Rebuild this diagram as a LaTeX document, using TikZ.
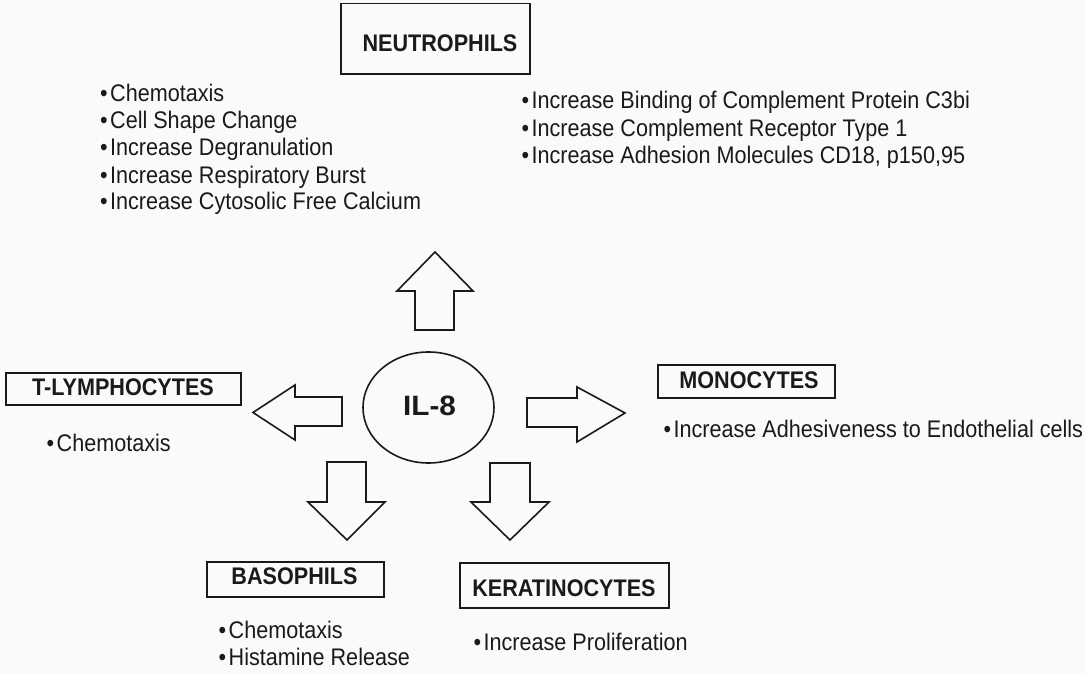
\documentclass[tikz,border=0pt]{standalone}
\usepackage{fontspec}
\setmainfont{Liberation Sans}[FakeStretch=0.9]
\newfontfamily\ilfont{Liberation Sans}[FakeStretch=1.06]
\definecolor{ink}{HTML}{1A1A1A}
\definecolor{paper}{HTML}{FAFAF9}
\begin{document}
\begin{tikzpicture}[x=1pt,y=-1pt,
  cellbox/.style={draw=ink,line width=1.8pt},
  celltxt/.style={anchor=base,inner sep=0pt,text=ink,font=\bfseries\fontsize{24}{24}\selectfont},
  item/.style={anchor=base west,inner sep=0pt,text=ink,font=\fontsize{24}{28}\selectfont},
  blockarrow/.style={draw=ink,line width=1.6pt,line join=miter,fill=paper}]
\fill[paper] (0,0) rectangle (1085,674);
\useasboundingbox (0,0) rectangle (1085,674);
\newcommand{\bul}{\textbullet\hspace{2.4pt}}

% centre
\draw[ink,line width=1.6pt] (428.5,407.5) ellipse [x radius=65.5,y radius=55.5];
\node[anchor=base,inner sep=0pt,text=ink,font=\ilfont\bfseries\fontsize{28}{28}\selectfont] (il8) at (429.5,415) {IL-8};

% block arrows
\draw[blockarrow] (415,330) -- (415,291) -- (397,291) -- (435,252) -- (473,291) -- (454,291) -- (454,330) -- cycle;
\draw[blockarrow] (342,397) -- (295,397) -- (295,385) -- (253,412.5) -- (295,440) -- (295,426) -- (342,426) -- cycle;
\draw[blockarrow] (527,398) -- (577,398) -- (577,387) -- (625,413) -- (577,442) -- (577,427) -- (527,427) -- cycle;
\draw[blockarrow] (327,462) -- (366,462) -- (366,502) -- (385,502) -- (347,540) -- (308,502) -- (327,502) -- cycle;
\draw[blockarrow] (490,463) -- (530,463) -- (530,502) -- (549,502) -- (510,540) -- (471,502) -- (490,502) -- cycle;

% boxes
\draw[cellbox] (341,3.5) rectangle (530,74);
\node[celltxt] (neu) at (440,51.5) {NEUTROPHILS};
\draw[cellbox] (6,373) rectangle (241,405);
\node[celltxt] (tly) at (123,395.5) {T-LYMPHOCYTES};
\draw[cellbox] (658,365) rectangle (835,398);
\node[celltxt] (mono) at (749,388) {MONOCYTES};
\draw[cellbox] (207,562) rectangle (384,597);
\node[celltxt] (baso) at (294.5,584) {BASOPHILS};
\draw[cellbox] (460,563) rectangle (669,608);
\node[celltxt] (kera) at (564,596) {KERATINOCYTES};

% neutrophil effects
\node[item] (n1) at (100,102) {\bul Chemotaxis};
\node[item] (n2) at (100,129) {\bul Cell Shape Change};
\node[item] (n3) at (100,156) {\bul Increase Degranulation};
\node[item] (n4) at (100,183) {\bul Increase Respiratory Burst};
\node[item] (n5) at (100,210) {\bul Increase Cytosolic Free Calcium};
\node[item] (n6) at (521.5,109) {\bul Increase Binding of Complement Protein C3bi};
\node[item] (n7) at (521.5,136.5) {\bul Increase Complement Receptor Type 1};
\node[item] (n8) at (521.5,164) {\bul Increase Adhesion Molecules CD18, p150,95};

% other effects
\node[item] (t1) at (46.5,451) {\bul Chemotaxis};
\node[item] (m1) at (663.5,437) {\bul Increase Adhesiveness to Endothelial cells};
\node[item] (b1) at (218.5,638) {\bul Chemotaxis};
\node[item] (b2) at (218.5,665) {\bul Histamine Release};
\node[item] (k1) at (473.5,650.5) {\bul Increase Proliferation};
\end{tikzpicture}
\end{document}
